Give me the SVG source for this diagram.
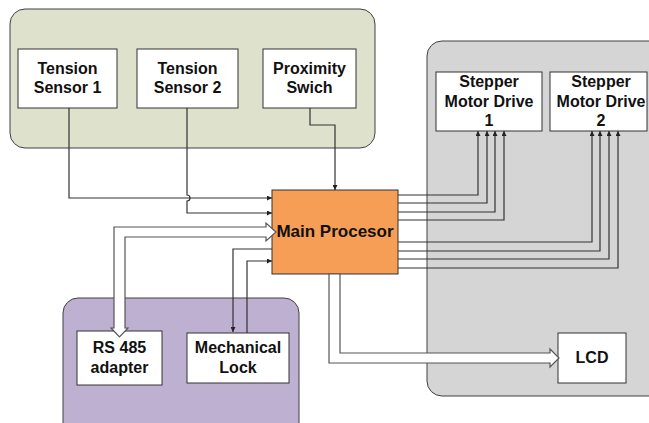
<svg xmlns="http://www.w3.org/2000/svg" width="649" height="423" viewBox="0 0 649 423">
<defs>
<marker id="ah" viewBox="0 0 10 10" refX="10" refY="5" markerWidth="5" markerHeight="5" orient="auto" markerUnits="userSpaceOnUse">
<path d="M0,0 L10,5 L0,10 Z" fill="#222"/>
</marker>
</defs>
<style>
.grp{stroke:#404040;stroke-width:1}
.box{fill:#fff;stroke:#333;stroke-width:1}
.t{font-family:"Liberation Sans",Arial,sans-serif;font-weight:bold;font-size:16px;fill:#111;text-anchor:middle}
.ln{fill:none;stroke:#333;stroke-width:1.2;marker-end:url(#ah)}
.blk{fill:#fff;stroke:#555;stroke-width:1.2}
</style>
<rect width="649" height="423" fill="#fff"/>
<g id="groups">
<rect class="grp" x="10" y="9" width="365" height="139" rx="15" fill="#dee2cd"/>
<rect class="grp" x="427" y="41" width="240" height="355" rx="15" fill="#d5d5d5"/>
<rect class="grp" x="63" y="298" width="236" height="145" rx="15" fill="#beb0d0"/>
</g>
<g id="ts1"><rect class="box" x="18" y="49" width="99" height="59"/><text class="t" x="67.5" y="74">Tension</text><text class="t" x="67.5" y="93">Sensor 1</text></g>
<g id="ts2"><rect class="box" x="137" y="49" width="101" height="59"/><text class="t" x="187.5" y="74">Tension</text><text class="t" x="187.5" y="93">Sensor 2</text></g>
<g id="prox"><rect class="box" x="263" y="49" width="93" height="59"/><text class="t" x="309.5" y="74">Proximity</text><text class="t" x="309.5" y="93">Swich</text></g>
<g id="smd1"><rect class="box" x="436" y="72" width="106" height="59"/><text class="t" x="489" y="87">Stepper</text><text class="t" x="489" y="106.5">Motor Drive</text><text class="t" x="489" y="126">1</text></g>
<g id="smd2"><rect class="box" x="550" y="72" width="97" height="59"/><text class="t" x="601" y="87">Stepper</text><text class="t" x="601" y="106.5">Motor Drive</text><text class="t" x="601" y="126">2</text></g>
<g id="main"><rect x="272" y="190" width="126" height="84" fill="#f69e56" stroke="#333" stroke-width="1"/><text class="t" x="335" y="237" style="font-size:17px">Main Procesor</text></g>
<g id="rs485"><rect class="box" x="77" y="331" width="85" height="54"/><text class="t" x="119.5" y="353">RS 485</text><text class="t" x="119.5" y="373">adapter</text></g>
<g id="lock"><rect class="box" x="187" y="333" width="102" height="50"/><text class="t" x="238" y="353">Mechanical</text><text class="t" x="238" y="373">Lock</text></g>
<g id="lcd"><rect class="box" x="558" y="333" width="68" height="50"/><text class="t" x="592" y="363">LCD</text></g>
<g id="connectors">
<path class="ln" d="M69,108 V198 H272"/>
<path class="ln" d="M187,108 V195 A3,3 0 0 1 187,201 V213 H272"/>
<path class="ln" d="M310,108 V125 H335 V190"/>
<path class="ln" d="M272,249 H233 V332"/>
<path class="ln" d="M247,333 V261 H272"/>
<path class="ln" d="M398,195 H478 V131"/>
<path class="ln" d="M398,203 H487 V131"/>
<path class="ln" d="M398,212 H495 V131"/>
<path class="ln" d="M398,220 H504 V131"/>
<path class="ln" d="M398,242 H592 V131"/>
<path class="ln" d="M398,251 H600 V131"/>
<path class="ln" d="M398,259 H609 V131"/>
<path class="ln" d="M398,268 H618 V131"/>
<path class="blk" d="M114,328 V227 H266 V223 L276,232 L266,241 V237 H125 V328 H128 L119.5,337 L111,328 Z"/>
<path class="blk" d="M329,274 V363 H550 V367 L559,358 L550,349 V353 H340 V274 Z"/>
</g>
</svg>
